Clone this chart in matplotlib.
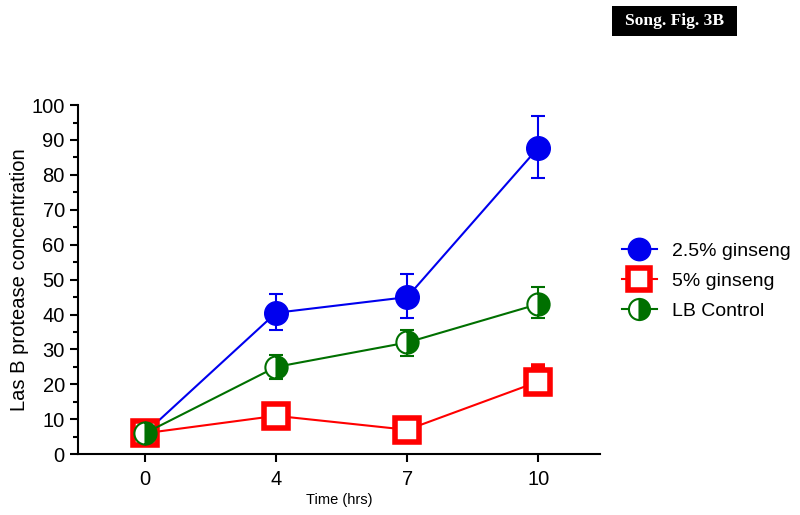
"""Song Fig. 3B - Las B protease concentration over time"""

import matplotlib
matplotlib.use('Agg')
import matplotlib.pyplot as plt
from matplotlib.lines import Line2D
from matplotlib.patches import Rectangle

plt.rcParams['font.family'] = ['Liberation Sans', 'DejaVu Sans']

times = ['0', '4', '7', '10']

ginseng25 = [6, 40.5, 45, 87.8]
ginseng25_lo = [0, 5, 6, 8.8]
ginseng25_hi = [0, 5.3, 6.5, 9]

ginseng5 = [6, 11, 7, 20.8]
ginseng5_lo = [0, 2, 1.5, 3]
ginseng5_hi = [0, 2.2, 2.5, 4.6]

control = [6, 25, 32, 43]
control_lo = [0, 3.5, 4, 4]
control_hi = [0, 3.5, 3.5, 4.8]

BLUE = '#0000ee'
RED = '#ff0000'
GREEN = '#007000'


def main():
    """Main function"""
    fig = plt.figure(figsize=(8, 5.15), dpi=100)
    ax = fig.add_axes([0.0975, 0.118, 0.6525, 0.678])
    x = list(range(len(times)))

    red_style = dict(color=RED, marker='s', markersize=17,
                     markerfacecolor='white', markeredgewidth=4, lw=1.5)
    blue_style = dict(color=BLUE, marker='o', markersize=17, lw=1.5)
    green_style = dict(color=GREEN, marker='o', markersize=16,
                       fillstyle='right', markerfacecolor=GREEN,
                       markerfacecoloralt='white', markeredgecolor=GREEN,
                       markeredgewidth=1.5, lw=1.5)
    err = dict(capsize=5, elinewidth=1.5, capthick=1.5)

    ax.errorbar(x, ginseng5, yerr=[ginseng5_lo, ginseng5_hi], zorder=3,
                **red_style, **err)
    ax.errorbar(x, ginseng25, yerr=[ginseng25_lo, ginseng25_hi], zorder=2,
                **blue_style, **err)
    ax.errorbar(x, control, yerr=[control_lo, control_hi], zorder=4,
                **green_style, **err)

    ax.set_xlim(-0.51, 3.47)
    ax.set_ylim(0, 100)
    ax.set_xticks(x)
    ax.set_xticklabels(times)
    ax.set_yticks(range(0, 101, 10))
    ax.set_yticks(range(5, 100, 10), minor=True)
    ax.tick_params(axis='both', labelsize=14.5, width=1.5, length=6)
    ax.tick_params(axis='x', pad=5)
    ax.tick_params(axis='y', which='minor', width=1.5, length=3.5)
    for side in ['top', 'right']:
        ax.spines[side].set_visible(False)
    for side in ['left', 'bottom']:
        ax.spines[side].set_linewidth(1.5)

    ax.set_ylabel('Las B protease concentration', fontsize=14.5, labelpad=2)
    ax.set_xlabel('Time (hrs)', fontsize=10.5, labelpad=3)

    handles = [Line2D([], [], **blue_style), Line2D([], [], **red_style),
               Line2D([], [], **green_style)]
    labels = ['2.5% ginseng', '5% ginseng', 'LB Control']
    ax.legend(handles, labels, loc='center left',
              bbox_to_anchor=(1.008, 0.496), frameon=False, fontsize=14,
              handlelength=1.8, handletextpad=0.8, labelspacing=0.62,
              markerscale=0.95)

    fig.patches.append(Rectangle((612 / 800, 1 - 36 / 515), 125 / 800,
                                 30 / 515, transform=fig.transFigure,
                                 facecolor='black', edgecolor='none'))
    fig.text(674.5 / 800, 1 - 21 / 515, 'Song. Fig. 3B', color='white',
             fontsize=12.6, fontweight='bold', family='Liberation Serif',
             ha='center', va='center')

    fig.savefig('out.png')


if __name__ == "__main__":
    main()
